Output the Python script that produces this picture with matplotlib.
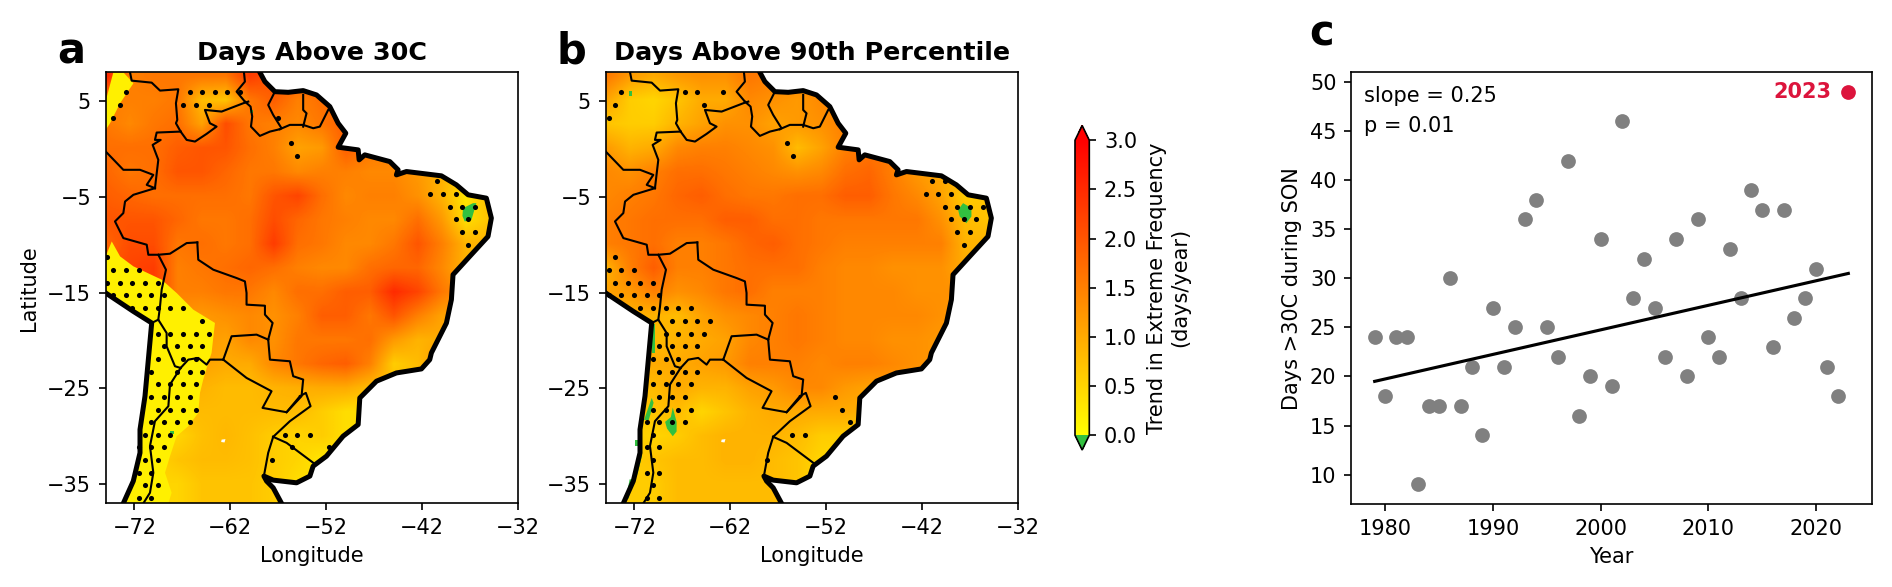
import numpy as np
import matplotlib
matplotlib.use("Agg")
import matplotlib.pyplot as plt
from matplotlib.colors import LinearSegmentedColormap, Normalize
from matplotlib.patches import Polygon

###################
# Map data
###################

grid_lon = [-75, -72.5, -70, -67.5, -65, -62.5, -60, -57.5, -55, -52.5, -50, -47.5, -45, -42.5, -40, -37.5, -35, -32.5]
grid_lat = [7.5, 5, 2.5, 0, -2.5, -5, -7.5, -10, -12.5, -15, -17.5, -20, -22.5, -25, -27.5, -30, -32.5, -35, -37.5]

# trend in days above 30C, ocean cells just repeat the nearest land value
trend_30c = [
    [2.6, 1.5, 1.6, 1.6, 1.6, 1.6, 2.3, 2.0, 2.0, 2.0, 2.0, 2.0, 2.0, 2.0, 2.0, 2.0, 2.0, 2.0],
    [1.5, 1.5, 1.5, 1.6, 0.8, 0.7, 1.6, 1.9, 1.5, 1.7, 1.8, 1.8, 1.8, 1.8, 1.8, 1.8, 1.8, 1.8],
    [1.6, 1.4, 1.6, 1.7, 1.1, 2.1, 1.6, 1.5, 1.4, 1.6, 1.9, 1.9, 1.9, 1.9, 1.9, 1.9, 1.9, 1.9],
    [1.7, 1.7, 1.7, 1.9, 2.0, 2.0, 1.7, 1.5, 1.1, 1.2, 1.9, 1.6, 1.5, 1.5, 1.5, 1.5, 1.5, 1.5],
    [1.8, 1.6, 1.7, 2.0, 2.0, 1.8, 1.6, 1.6, 1.4, 1.5, 1.5, 1.4, 1.4, 1.2, 0.9, 0.7, 0.7, 0.7],
    [1.9, 1.8, 1.7, 1.7, 1.7, 1.7, 1.6, 2.0, 2.2, 1.7, 1.4, 1.5, 1.5, 1.3, 0.9, 0.3, 0.8, 0.8],
    [2.0, 2.0, 2.0, 1.8, 1.6, 1.6, 1.7, 2.1, 1.8, 1.6, 1.5, 1.4, 1.4, 1.7, 1.2, 0.4, 0.7, 0.7],
    [1.8, 2.1, 2.1, 1.6, 1.7, 1.6, 1.7, 2.3, 1.7, 1.6, 1.4, 1.4, 1.6, 2.0, 1.5, 0.9, 0.9, 0.9],
    [2.0, 2.2, 2.3, 1.5, 1.6, 1.7, 1.8, 1.7, 1.5, 1.4, 1.4, 1.7, 1.8, 1.8, 1.4, 0.9, 0.9, 0.9],
    [2.0, 2.0, 2.3, 1.5, 1.5, 1.6, 1.6, 1.4, 1.7, 1.7, 1.9, 1.9, 2.5, 2.2, 1.6, 1.2, 1.2, 1.2],
    [1.3, 1.3, 1.3, 1.3, 1.2, 1.3, 1.4, 1.3, 1.5, 1.9, 1.9, 1.6, 2.0, 1.5, 1.1, 1.1, 1.1, 1.1],
    [1.2, 1.2, 1.2, 1.2, 1.2, 1.1, 1.4, 1.3, 1.6, 1.6, 1.6, 1.7, 1.2, 0.9, 1.0, 1.0, 1.0, 1.0],
    [1.1, 1.1, 1.1, 1.1, 1.1, 1.0, 1.0, 1.4, 1.6, 1.8, 1.9, 1.5, 0.6, 0.8, 1.3, 1.3, 1.3, 1.3],
    [0.9, 0.9, 0.9, 0.9, 0.9, 0.8, 0.8, 0.9, 0.95, 1.0, 1.0, 0.8, 0.8, 0.8, 0.8, 0.8, 0.8, 0.8],
    [0.8, 0.8, 0.8, 0.8, 0.8, 0.8, 0.8, 0.8, 0.8, 0.6, 0.4, 0.4, 0.4, 0.4, 0.4, 0.4, 0.4, 0.4],
    [0.5, 0.5, 0.5, 0.5, 0.75, 0.85, 0.75, 0.6, 0.5, 0.6, 0.4, 0.4, 0.4, 0.4, 0.4, 0.4, 0.4, 0.4],
    [0.5, 0.5, 0.5, 0.7, 0.8, 0.8, 0.75, 0.6, 0.5, 0.3, 0.3, 0.3, 0.3, 0.3, 0.3, 0.3, 0.3, 0.3],
    [0.5, 0.5, 0.5, 0.5, 0.7, 0.7, 0.7, 0.6, 0.4, 0.4, 0.4, 0.4, 0.4, 0.4, 0.4, 0.4, 0.4, 0.4],
    [0.5, 0.5, 0.5, 0.5, 0.7, 0.7, 0.7, 0.6, 0.4, 0.4, 0.4, 0.4, 0.4, 0.4, 0.4, 0.4, 0.4, 0.4],
]

# trend in days above the 90th percentile
trend_p90 = [
    [1.6, 1.2, 1.0, 1.2, 1.3, 1.3, 1.6, 1.5, 1.5, 1.5, 1.5, 1.5, 1.5, 1.5, 1.5, 1.5, 1.5, 1.5],
    [1.1, 0.6, 0.5, 0.7, 1.0, 1.0, 1.4, 1.3, 1.2, 1.4, 1.4, 1.4, 1.4, 1.4, 1.4, 1.4, 1.4, 1.4],
    [0.7, 0.6, 0.6, 0.9, 1.1, 1.3, 1.3, 1.1, 1.2, 1.3, 1.5, 1.5, 1.5, 1.5, 1.5, 1.5, 1.5, 1.5],
    [1.2, 0.9, 1.0, 1.4, 1.5, 1.5, 1.4, 1.3, 0.8, 1.1, 1.5, 1.6, 1.6, 1.6, 1.6, 1.6, 1.6, 1.6],
    [1.4, 1.3, 1.5, 1.7, 1.7, 1.6, 1.5, 1.4, 1.3, 1.4, 1.7, 1.8, 1.5, 1.2, 1.0, 1.0, 1.0, 1.0],
    [1.4, 1.5, 1.6, 1.8, 1.9, 1.7, 1.6, 1.6, 1.7, 1.7, 1.9, 1.9, 1.6, 1.4, 1.1, 0.6, 0.7, 0.7],
    [1.5, 1.6, 1.7, 1.7, 1.7, 1.9, 1.9, 1.7, 1.7, 1.6, 1.6, 1.6, 1.6, 1.6, 1.3, 0.8, 0.7, 0.7],
    [1.5, 1.6, 1.7, 1.5, 1.5, 1.6, 1.8, 1.9, 1.7, 1.6, 1.5, 1.5, 1.5, 1.5, 1.5, 0.9, 0.9, 0.9],
    [0.9, 1.5, 1.9, 1.5, 1.5, 1.6, 1.7, 1.7, 1.7, 1.5, 1.4, 1.4, 1.3, 1.3, 1.3, 1.0, 1.0, 1.0],
    [1.1, 1.2, 1.5, 1.3, 1.4, 1.6, 1.7, 1.5, 1.5, 1.5, 1.4, 1.4, 1.4, 1.3, 1.3, 1.3, 1.3, 1.3],
    [0.9, 0.9, 0.9, 0.8, 1.1, 1.3, 1.4, 1.5, 1.6, 1.5, 1.4, 1.4, 1.4, 1.4, 1.3, 1.1, 1.1, 1.1],
    [1.0, 1.0, 0.8, 0.9, 1.0, 1.1, 1.4, 1.5, 1.6, 1.5, 1.4, 1.4, 1.3, 1.3, 1.2, 1.1, 1.1, 1.1],
    [1.0, 1.0, 1.0, 1.0, 1.1, 1.2, 1.5, 1.5, 1.5, 1.4, 1.5, 1.5, 1.4, 1.3, 1.2, 1.2, 1.2, 1.2],
    [0.8, 0.8, 0.8, 1.0, 0.9, 0.9, 1.1, 1.2, 1.4, 1.4, 1.2, 1.1, 1.2, 1.2, 0.9, 0.9, 0.9, 0.9],
    [0.7, 0.7, 0.7, 0.8, 0.5, 0.7, 0.9, 1.0, 1.0, 1.0, 1.0, 0.9, 0.8, 0.6, 0.6, 0.6, 0.6, 0.6],
    [0.6, 0.6, 0.5, 0.6, 0.8, 0.9, 0.9, 0.9, 0.8, 0.6, 0.6, 0.5, 0.5, 0.5, 0.5, 0.5, 0.5, 0.5],
    [0.6, 0.6, 0.7, 0.8, 0.8, 0.9, 0.9, 0.8, 0.7, 0.5, 0.4, 0.4, 0.4, 0.4, 0.4, 0.4, 0.4, 0.4],
    [0.6, 0.6, 0.6, 0.8, 0.8, 0.8, 0.8, 0.8, 0.7, 0.4, 0.4, 0.4, 0.4, 0.4, 0.4, 0.4, 0.4, 0.4],
    [0.6, 0.6, 0.6, 0.8, 0.8, 0.8, 0.8, 0.8, 0.7, 0.4, 0.4, 0.4, 0.4, 0.4, 0.4, 0.4, 0.4, 0.4],
]

east_coast_lon = [-58.91, -58.39, -57.34, -55.95, -54.39, -53.0, -51.61, -50.74, -49.94, -50.74, -48.65, -48.55, -47.96,
                  -45.35, -44.48, -44.66, -43.61, -39.96, -38.4, -37.18, -35.27, -34.75, -35.1, -37.01, -38.75, -38.92,
                  -39.44, -41.01, -41.18, -42.05, -44.66, -46.74, -48.48, -48.65, -50.22, -51.96, -53.35, -53.69,
                  -55.08, -57.52, -58.49, -58.21, -57.52, -56.65]
east_coast_lat = [8.0, 7.03, 5.98, 5.91, 6.09, 5.64, 4.42, 2.68, 1.64, 0.18, -0.1, -1.14, -0.62,
                  -1.32, -2.18, -2.71, -2.36, -2.81, -3.75, -4.79, -5.14, -7.22, -9.14, -11.22, -13.13, -15.74,
                  -18.18, -21.3, -22.0, -22.97, -23.39, -24.25, -26.0, -28.78, -29.99, -32.08, -33.12, -34.16,
                  -34.86, -34.58, -34.16, -34.68, -35.38, -37.0]
west_coast_lon = [-75.0, -72.12, -70.2, -70.55, -70.9, -71.42, -71.42, -72.12, -73.16]
west_coast_lat = [-15.04, -16.96, -18.17, -22.0, -25.82, -29.3, -31.73, -34.68, -37.0]

# country borders, one (lons, lats) pair per stretch
borders = [
    ([-72.46, -72.29, -70.2, -69.33, -67.42, -67.67, -67.53, -67.67, -67.18],
     [8.0, 7.13, 6.92, 6.09, 6.23, 4.77, 3.03, 2.68, 1.81]),
    ([-67.18, -66.55, -65.68, -64.47, -63.43, -64.12, -64.64, -62.9, -60.64, -60.12],
     [1.81, 0.94, 0.77, 1.57, 2.33, 2.68, 4.07, 3.9, 4.77, 4.94]),
    ([-60.47, -61.34, -60.47, -60.57], [4.94, 5.98, 7.03, 8.0]),
    ([-60.47, -59.88, -59.71, -59.84, -58.91, -57.86, -56.82], [4.94, 4.42, 3.38, 2.33, 1.36, 1.81, 2.06]),
    ([-57.34, -58.04, -57.52, -56.65], [5.98, 4.59, 3.55, 2.16]),
    ([-54.39, -54.39, -54.04, -54.39], [5.64, 4.07, 3.72, 2.33]),
    ([-56.82, -55.78, -54.39, -53.34, -52.65, -51.78], [2.06, 2.51, 2.51, 2.16, 2.33, 4.07]),
    ([-67.18, -69.68, -69.86, -69.26, -70.1, -69.51, -69.86], [1.81, 1.71, 0.94, 0.94, 0.42, -1.14, -4.1]),
    ([-75.0, -73.16, -71.42, -70.03, -70.72, -69.86], [-0.27, -2.18, -2.18, -2.71, -3.75, -4.1]),
    ([-69.86, -72.11, -72.98, -73.16, -74.03, -73.16, -70.72, -70.55, -69.51, -68.29, -66.55, -65.44],
     [-4.1, -4.79, -5.49, -6.7, -7.57, -9.31, -10.0, -11.05, -11.05, -10.94, -9.83, -9.76]),
    ([-69.51, -68.71, -69.16, -69.33, -69.51, -70.2], [-11.05, -12.61, -14.7, -16.44, -17.83, -18.17]),
    ([-65.44, -65.34, -63.77, -61.34, -60.47, -60.3, -60.3, -58.38, -58.38, -57.58, -58.04],
     [-9.76, -11.57, -12.61, -13.48, -13.83, -15.04, -16.26, -16.37, -17.3, -18.17, -19.91]),
    ([-58.04, -59.25, -61.86, -62.73], [-19.91, -19.39, -19.56, -22.0]),
    ([-58.04, -57.86, -55.78, -55.43, -54.39, -54.56, -56.12], [-19.91, -22.0, -22.17, -23.73, -24.08, -25.82, -27.49]),
    ([-62.73, -60.3, -57.69, -58.63, -56.12, -54.73], [-22.0, -23.91, -25.3, -27.04, -27.49, -25.82]),
    ([-62.73, -64.12, -64.47, -65.34, -66.38, -67.18], [-22.0, -22.0, -22.52, -21.82, -22.0, -22.87]),
    ([-69.51, -68.64, -68.64, -67.77, -67.18], [-17.83, -19.22, -20.61, -22.69, -22.87]),
    ([-67.18, -68.29, -68.46, -69.86, -70.38, -70.03, -70.38, -71.07], [-22.87, -24.6, -26.86, -28.43, -31.03, -33.81, -35.9, -37.0]),
    ([-54.73, -54.11, -53.62, -55.78, -57.52], [-25.82, -25.47, -26.86, -28.43, -30.06]),
    ([-57.52, -56.12, -53.34], [-30.06, -30.69, -32.77]),
    ([-57.52, -58.04, -58.49], [-30.06, -31.73, -34.16]),
]

# stippling: latitude of the row, longitudes of the dots in it
stipple_30c = [
    (5.91, [-72.87, -66.25, -64.93, -63.63, -62.31, -60.99]),
    (4.59, [-73.54, -66.9, -65.6, -64.27]),
    (3.27, [-74.2, -57.0]),
    (0.6, [-55.67]), (-0.72, [-55.0]),
    (-3.4, [-40.45]), (-4.72, [-41.11, -39.79, -38.47]),
    (-6.04, [-39.09, -37.77, -36.45]), (-7.36, [-38.47, -37.15]),
    (-8.68, [-37.77, -36.45]), (-10.0, [-37.15]),
    (-11.33, [-74.86]), (-12.65, [-74.2, -72.87, -71.56]),
    (-13.97, [-74.86, -73.54, -72.22, -70.9, -69.57]),
    (-15.29, [-74.2, -72.87, -71.56, -70.24, -68.9]),
    (-16.61, [-72.22, -70.9, -69.57, -68.24, -66.9]),
    (-17.93, [-64.93]),
    (-19.28, [-69.57, -68.24, -66.9, -65.6, -64.27]),
    (-20.6, [-68.9, -67.57, -66.25, -64.93]),
    (-21.93, [-69.57, -66.9, -65.6]),
    (-23.25, [-70.24, -67.57, -66.25, -64.93]),
    (-24.57, [-69.57, -68.24, -66.9, -65.6]),
    (-25.89, [-70.24, -68.9, -67.57, -66.25]),
    (-27.21, [-69.57, -68.24, -66.9, -65.6]),
    (-28.53, [-70.24, -68.9, -67.57, -66.25]),
    (-29.85, [-70.9, -69.57, -68.24, -56.33, -55.0, -53.7]),
    (-31.17, [-71.56, -70.24, -68.9, -55.6, -51.68]),
    (-32.49, [-70.9, -69.57, -57.65]),
    (-33.81, [-71.56, -70.24]), (-35.13, [-70.9, -69.57]), (-36.46, [-71.56, -70.24]),
]
stipple_p90 = [
    (5.91, [-73.37, -66.73, -65.44, -62.77]),
    (4.59, [-74.03, -64.77]),
    (3.27, [-74.69]),
    (0.6, [-56.13]), (-0.72, [-55.47]),
    (-3.4, [-40.94, -39.62]), (-4.72, [-41.6, -40.28, -38.96]),
    (-6.04, [-39.62, -38.3, -36.97, -35.65]), (-7.36, [-38.96, -37.63, -36.31]),
    (-8.68, [-38.3, -36.97]), (-10.0, [-37.63]),
    (-11.33, [-74.03]), (-12.65, [-74.69, -73.37, -72.05]),
    (-13.97, [-74.03, -72.71, -71.39, -70.06]),
    (-15.29, [-74.69, -73.37, -72.05, -70.72, -69.4]),
    (-16.61, [-71.39, -70.06, -68.74, -67.42, -66.1]),
    (-17.93, [-68.08, -66.73, -65.44, -64.09]),
    (-19.28, [-68.74, -67.42, -66.1, -64.77]),
    (-20.6, [-69.4, -68.08, -66.73, -65.44]),
    (-21.93, [-70.06, -68.74, -67.42]),
    (-23.25, [-69.4, -68.08, -66.73, -65.44]),
    (-24.57, [-70.06, -68.74, -67.42, -66.1]),
    (-25.89, [-69.4, -68.08, -66.73, -51.02]),
    (-27.21, [-70.06, -68.74, -67.42, -66.1, -50.32]),
    (-28.53, [-70.72, -69.4, -68.08, -66.73, -49.52]),
    (-29.85, [-70.06, -55.54, -54.21]),
    (-31.17, [-70.72, -69.4]), (-32.49, [-70.06, -58.14]),
    (-33.81, [-70.72, -69.4]), (-35.13, [-70.06]), (-36.46, [-70.72, -69.4]),
]

# negative trends (green patches), too small for the coarse grid
negative_30c = [
    ([-37.7, -36.66, -36.31, -36.83, -37.53, -37.77], [-6.18, -5.66, -5.66, -7.4, -7.57, -7.0]),
    ([-59.95, -59.6, -59.6, -59.95], [4.1, 4.1, 3.7, 3.7]),
    ([-68.25, -67.9, -67.9, -68.25], [-29.4, -29.4, -29.8, -29.8]),
]
negative_p90 = [
    ([-38.22, -37.7, -36.83, -36.83, -37.36, -38.05], [-6.36, -5.66, -6.18, -7.05, -7.75, -7.05]),
    ([-70.13, -69.85, -69.85, -70.2], [-18.3, -18.3, -21.3, -21.3]),
    ([-70.2, -70.0, -70.5, -71.0], [-26.0, -26.5, -28.3, -28.3]),
    ([-68.0, -67.6, -67.6, -68.0, -68.6, -68.8, -68.2], [-27.0, -28.5, -29.5, -30.0, -29.2, -28.5, -28.0]),
    ([-71.9, -71.6, -71.6, -71.9], [-30.4, -30.4, -31.0, -31.0]),
    ([-71.5, -71.2, -71.7, -72.0], [-32.0, -32.0, -34.0, -34.0]),
    ([-72.5, -72.2, -72.6, -72.9], [-34.5, -34.5, -36.5, -36.5]),
    ([-72.6, -72.3, -72.3, -72.6], [6.0, 6.0, 5.5, 5.5]),
]

# sharp edged low trend regions of panel a (Andes and the northern strip)
low_trend_30c = [
    ([-74.2, -73.16, -72.11, -73.5, -74.55, -75.0, -75.0], [8.0, 8.0, 6.85, 4.77, 2.68, 1.99, 5.0]),
    ([-75.0, -74.37, -73.5, -72.11, -69.16, -67.6, -65.86, -63.6, -63.95, -64.3, -64.82, -65.16, -65.34, -66.38,
      -67.6, -68.29, -68.81, -68.12, -68.46, -75.0],
     [-11.22, -9.66, -11.22, -12.26, -13.65, -15.04, -16.78, -18.17, -21.3, -22.34, -24.08, -25.47, -27.56, -28.95,
      -30.0, -32.08, -33.81, -35.9, -37.0, -37.0]),
]

white_specks_lon = [-62.9, -62.5, -62.6, -62.95]
white_specks_lat = [-30.35, -30.3, -30.65, -30.6]

# panel c
years = list(range(1979, 2024))
days_above = [24, 18, 24, 24, 9, 17, 17, 30, 17, 21, 14, 27, 21, 25, 36, 38, 25, 22, 42, 16, 20, 34, 19, 46, 28, 32, 27,
              22, 34, 20, 36, 24, 22, 33, 28, 39, 37, 23, 37, 26, 28, 31, 21, 18, 49]
trend_years = [1979, 2023]
trend_days = [19.5, 30.5]

cb_ticks = [0.0, 0.5, 1.0, 1.5, 2.0, 2.5, 3.0]
lon_ticks = [-72, -62, -52, -42, -32]
lat_ticks = [5, -5, -15, -25, -35]

###################
# Figure
###################

W, H = 1892, 587
DPI = 150
fig = plt.figure(figsize=(W / DPI, H / DPI), dpi=DPI)

def px_axes(left, top, right, bottom):
    return fig.add_axes([left / W, 1 - bottom / H, (right - left) / W, (bottom - top) / H])

cmap = LinearSegmentedColormap.from_list("trend", ["yellow", "red"])
green = "#32c040"
cmap.set_under(green)
cmap.set_over("red")
norm = Normalize(0, 3)

land_lon = [-75, -58.91] + east_coast_lon + [-73.16] + west_coast_lon[::-1] + [-75]
land_lat = [8, 8] + east_coast_lat + [-37] + west_coast_lat[::-1] + [8]

def draw_map(ax, field, stipple, negative, title, low_regions=()):
    half = 1.25
    im = ax.imshow(np.array(field), cmap=cmap, norm=norm, interpolation="bilinear", aspect="auto",
                   extent=[grid_lon[0] - half, grid_lon[-1] + half, grid_lat[-1] - half, grid_lat[0] + half])
    land = Polygon(np.column_stack([land_lon, land_lat]), closed=True, transform=ax.transData)
    im.set_clip_path(land)

    for plon, plat in low_regions:
        p = ax.fill(plon, plat, color="#fff000", lw=0, zorder=1.5)[0]
        p.set_clip_path(land)
    for plon, plat in negative:
        ax.fill(plon, plat, color=green, lw=0, zorder=2)
    ax.fill(white_specks_lon, white_specks_lat, color="white", lw=0, zorder=2)

    for lat, lons in stipple:
        ax.scatter(lons, [lat] * len(lons), s=6, color="black", lw=0, zorder=3)

    for blon, blat in borders:
        ax.plot(blon, blat, color="black", lw=1.0, zorder=4)
    ax.plot(east_coast_lon, east_coast_lat, color="black", lw=2.4, zorder=5)
    ax.plot(west_coast_lon, west_coast_lat, color="black", lw=2.4, zorder=5)

    ax.set_xlim(-75, -32)
    ax.set_ylim(-37, 8)
    ax.set_xticks(lon_ticks)
    ax.set_yticks(lat_ticks)
    ax.set_xlabel("Longitude")
    ax.set_title(title, fontweight="bold", fontsize=12.2)
    return im

ax_a = px_axes(105.7, 72.3, 517.7, 503.3)
im = draw_map(ax_a, trend_30c, stipple_30c, negative_30c, "Days Above 30C", low_trend_30c)
ax_a.set_ylabel("Latitude")

ax_b = px_axes(605.7, 72.3, 1017.7, 503.3)
draw_map(ax_b, trend_p90, stipple_p90, negative_p90, "Days Above 90th Percentile")

# colorbar, the axes includes the two arrows
cax = px_axes(1075, 125.5, 1089.3, 450)
cb = fig.colorbar(im, cax=cax, extend="both", ticks=cb_ticks)
cb.set_label("Trend in Extreme Frequency\n(days/year)", labelpad=5)

# panel c
ax_c = px_axes(1351, 72.3, 1872, 504)
ax_c.scatter(years[:-1], days_above[:-1], s=50, color="gray", lw=0, zorder=2)
ax_c.scatter(years[-1:], days_above[-1:], s=50, color="crimson", lw=0, zorder=2)
ax_c.plot(trend_years, trend_days, color="black", lw=1.5, zorder=3)
ax_c.set_xlim(1976.8, 2025.2)
ax_c.set_ylim(7, 51)
ax_c.set_yticks(range(10, 51, 5))
ax_c.set_xlabel("Year")
ax_c.set_ylabel("Days >30C during SON")
ax_c.text(0.025, 0.932, "slope = 0.25", transform=ax_c.transAxes, va="baseline")
ax_c.text(0.025, 0.8624, "p = 0.01", transform=ax_c.transAxes, va="baseline")
ax_c.text(2021.4, 49, "2023", color="crimson", fontweight="bold", ha="right", va="center")

# panel letters
fig.text(57 / W, 1 - 63 / H, "a", fontsize=20, fontweight="bold")
fig.text(557 / W, 1 - 63 / H, "b", fontsize=20, fontweight="bold")
fig.text(1309 / W, 1 - 45 / H, "c", fontsize=20, fontweight="bold")

fig.savefig("out.png", dpi=DPI)
